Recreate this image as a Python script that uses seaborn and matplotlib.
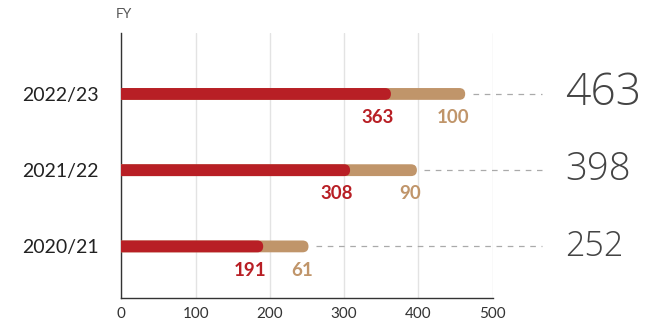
import matplotlib
matplotlib.use("Agg")
import matplotlib.pyplot as plt
import seaborn as sns
import pandas as pd
from matplotlib.patches import FancyBboxPatch
import matplotlib.transforms as mtransforms

years = ["2022/23", "2021/22", "2020/21"]
core = [363, 308, 191]
other = [100, 90, 61]
totals = [463, 398, 252]
xticks = [0, 100, 200, 300, 400, 500]

RED = "#B81F25"
TAN = "#C0956A"
DARK = "#444444"

sns.set_theme(style="white")
plt.rcParams["font.family"] = ["Lato", "DejaVu Sans"]

df = pd.DataFrame({"year": years, "core": core, "other": other, "total": totals})

fig = plt.figure(figsize=(6.56, 3.2), dpi=100)
ax = fig.add_axes([0.185, 0.068, 0.566, 0.829])

sns.barplot(data=df, x="total", y="year", color=TAN, width=0.155, ax=ax,
            saturation=1, order=years)
sns.barplot(data=df, x="core", y="year", color=RED, width=0.155, ax=ax,
            saturation=1, order=years)

ax.set_xlim(0, 500)
ax.set_ylim(2.68, -0.80)

# convert bars to rounded-ended bars
fig.canvas.draw()
px_x = ax.transData.transform((1, 0))[0] - ax.transData.transform((0, 0))[0]
px_y = abs(ax.transData.transform((0, 1))[1] - ax.transData.transform((0, 0))[1])
patches = list(ax.patches)
for p in patches:
    x0, y0, w, h = p.get_x(), p.get_y(), p.get_width(), p.get_height()
    fc = p.get_facecolor()
    p.remove()
    r = h / 2 * px_y / px_x
    fb = FancyBboxPatch((x0 - 30, y0), w + 30, h,
                        boxstyle=f"round,pad=0,rounding_size={r}",
                        mutation_aspect=(px_x / px_y),
                        facecolor=fc, edgecolor="none", zorder=3)
    ax.add_patch(fb)

for i, (c, o, t) in enumerate(zip(core, other, totals)):
    ax.annotate(str(c), xy=(c, i), xytext=(2, -17), textcoords="offset points",
                ha="right", va="center", color=RED, fontsize=13.5,
                fontweight="bold")
    ax.annotate(str(o), xy=(t, i), xytext=(3, -17), textcoords="offset points",
                ha="right", va="center", color=TAN, fontsize=13.5,
                fontweight="bold")
    ax.plot([t + 10, 567], [i, i], color="#AAAAAA", lw=0.9,
            dashes=(4.5, 4.5), clip_on=False, zorder=2)

sizes = [32, 27.5, 24.5]
for i, (t, s) in enumerate(zip(totals, sizes)):
    trans = mtransforms.blended_transform_factory(ax.transAxes, ax.transData)
    ax.annotate(str(t), xy=(1, i), xycoords=trans, xytext=(52, 0),
                textcoords="offset points", ha="left", va="center",
                color=DARK, fontsize=s, fontweight=300,
                family=["Open Sans", "DejaVu Sans"])

ax.set_xticks(xticks)
ax.set_xticklabels([str(v) for v in xticks])
ax.grid(axis="x", color="#E3E3E3", lw=1)
ax.set_axisbelow(True)
for side in ["top", "right"]:
    ax.spines[side].set_visible(False)
for side in ["left", "bottom"]:
    ax.spines[side].set_color("#333333")
    ax.spines[side].set_linewidth(1)
ax.tick_params(axis="x", labelsize=11, colors="#333333", length=0, pad=6)
ax.tick_params(axis="y", labelsize=14, colors="#222222", length=0, pad=16)
ax.set_xlabel("")
ax.set_ylabel("")
ax.text(-0.015, 1.05, "FY", transform=ax.transAxes, fontsize=10,
        color="#555555", ha="left", va="bottom")

fig.savefig("out.png", dpi=100)
